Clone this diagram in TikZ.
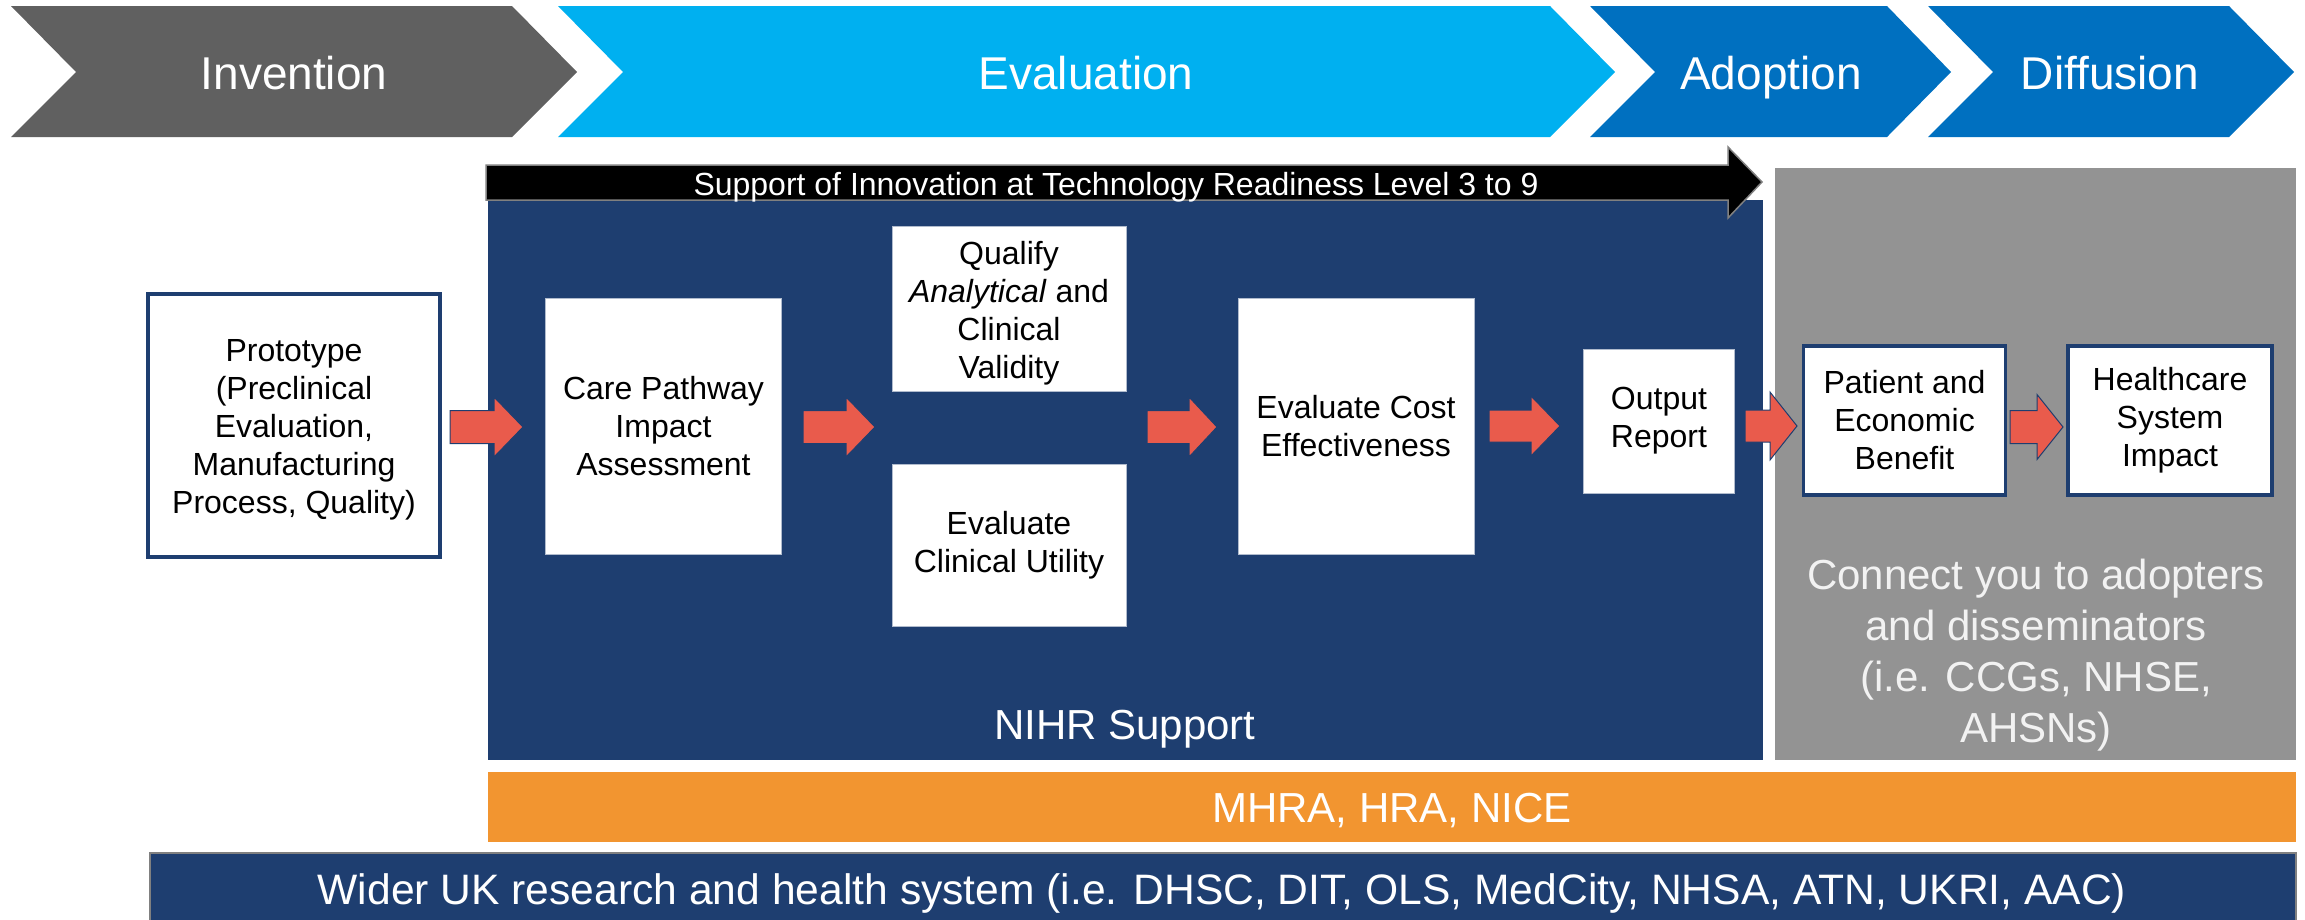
\documentclass[tikz,border=0pt]{standalone}
\usepackage{fontspec}
\setmainfont{Liberation Sans}
\definecolor{chevgray}{HTML}{606060}
\definecolor{chevcyan}{HTML}{00B0F0}
\definecolor{chevblue}{HTML}{0070C0}
\definecolor{navy}{RGB}{30,62,112}
\definecolor{boxgray}{HTML}{939393}
\definecolor{orangebar}{HTML}{F29530}
\definecolor{arrred}{HTML}{E95B4C}
\definecolor{offwhite}{HTML}{F2F2F2}
\newcommand{\blockarr}[6]{% x0, xh, xt, yc, body half, head half
  \filldraw[arrstyle] (#1,#4-#5) -- (#2,#4-#5) -- (#2,#4-#6) -- (#3,#4) -- (#2,#4+#6) -- (#2,#4+#5) -- (#1,#4+#5) -- cycle;}
\begin{document}
\begin{tikzpicture}[x=1pt,y=-1pt,
  chevtext/.style={text=white, font=\fontsize{46}{55}\selectfont, anchor=base, inner sep=0},
  bodytext/.style={font=\fontsize{32}{38}\selectfont, align=center, inner sep=0, text=black},
  navybox/.style={bodytext, draw=navy, line width=3.5pt, fill=white},
  plainbox/.style={bodytext, draw=white!65!navy, line width=1pt, fill=white},
  bigtext/.style={text=white, font=\fontsize{42}{51}\selectfont, align=center, inner sep=0},
  arrstyle/.style={fill=arrred, draw=navy, line width=1pt}
]
\useasboundingbox (0,0) rectangle (2305,919);

% chevrons
\fill[chevgray] (11,6) -- (512,6) -- (577,72) -- (512,137) -- (11,137) -- (76,72) -- cycle;
\fill[chevcyan] (558,6) -- (1550,6) -- (1615,72) -- (1550,137) -- (558,137) -- (623,72) -- cycle;
\fill[chevblue] (1590,6) -- (1887,6) -- (1951,72) -- (1887,137) -- (1590,137) -- (1655,72) -- cycle;
\fill[chevblue] (1928,6) -- (2229,6) -- (2294,72) -- (2229,137) -- (1928,137) -- (1993,72) -- cycle;
\node[chevtext] (tinv) at (294,89) {Invention};
\node[chevtext] (teva) at (1086,89) {Evaluation};
\node[chevtext] (tado) at (1771,89) {Adoption};
\node[chevtext] (tdif) at (2110,89) {Diffusion};

% background panels
\fill[navy] (488,200) rectangle (1763,760);
\fill[boxgray] (1775,168) rectangle (2296,760);
\fill[orangebar] (488,772) rectangle (2296,842);
\filldraw[fill=navy, draw=gray, line width=1.5pt] (150,853) rectangle (2296,930);

% support arrow
\filldraw[fill=black, draw=gray, line width=1.5pt] (486,165) -- (1728,165) -- (1728,147) -- (1762,182) -- (1728,218) -- (1728,200) -- (486,200) -- cycle;
\node[text=white, font=\fontsize{32}{38}\selectfont, anchor=base, inner sep=0] (tsup) at (1116,195) {Support of Innovation at Technology Readiness Level 3 to 9};

% boxes
\node[navybox, minimum width=292, minimum height=263] (proto) at (294,425.5) {};
\node[bodytext] (protot) at ([yshift=-4pt]proto.center) {Prototype\\(Preclinical\\Evaluation,\\Manufacturing\\Process, Quality)};
\node[plainbox, minimum width=236, minimum height=256] (care) at (663.5,426) {Care Pathway\\Impact\\Assessment};
\node[plainbox, minimum width=234, minimum height=165] (qual) at (1009,308.5) {};
\node[bodytext] (qualt) at ([yshift=-5pt]qual.center) {Qualify\\\textit{Analytical} and\\Clinical\\Validity};
\node[plainbox, minimum width=234, minimum height=162] (util) at (1009,545) {Evaluate\\Clinical Utility};
\node[plainbox, minimum width=236, minimum height=256] (cost) at (1356,426) {Evaluate Cost\\Effectiveness};
\node[plainbox, minimum width=151, minimum height=144] (outp) at (1659,421) {Output\\Report};
\node[navybox, minimum width=202, minimum height=149] (pat) at (1904.5,420.5) {Patient and\\Economic\\Benefit};
\node[navybox, minimum width=204, minimum height=149] (hc) at (2170,420.5) {Healthcare\\System\\Impact};

% block arrows
\blockarr{450}{494}{523}{427}{16.5}{30}
\blockarr{803}{846}{875}{427}{16.5}{30}
\blockarr{1147}{1189}{1217}{427}{16.5}{30}
\blockarr{1489}{1531}{1560}{426}{16}{30}
\blockarr{1745}{1770}{1797}{426}{16}{34}
\blockarr{2010}{2037}{2063}{427}{16.5}{32.5}

% texts
\node[bigtext, text=offwhite] (conn) at (2036,655) {Connect you to adopters\\and disseminators\\(i.e. CCGs, NHSE,\\AHSNs)};
\node[bigtext, anchor=base] (nihr) at (1125,739) {NIHR Support};
\node[bigtext, anchor=base] (mhra) at (1392,822) {MHRA, HRA, NICE};
\node[bigtext, anchor=base, font=\fontsize{42.6}{51}\selectfont] (wider) at (1222,904) {Wider UK research and health system (i.e. DHSC, DIT, OLS, MedCity, NHSA, ATN, UKRI, AAC)};
\end{tikzpicture}
\end{document}
